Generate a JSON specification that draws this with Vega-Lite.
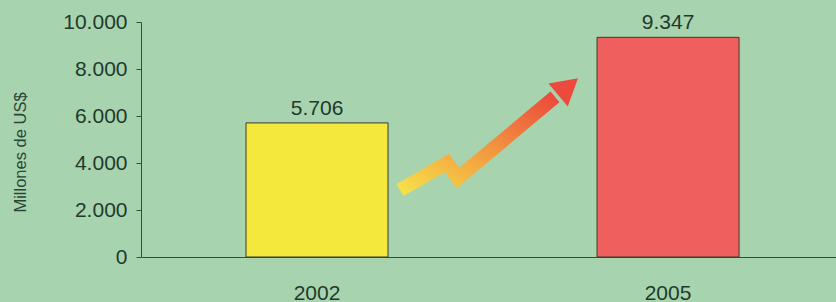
{
  "$schema": "https://vega.github.io/schema/vega-lite/v6.json",
  "width": 695,
  "height": 235,
  "autosize": {"type": "none"},
  "padding": {"left": 141, "top": 22, "right": 0, "bottom": 45},
  "background": "#a7d4ae",
  "config": {
    "view": {"stroke": null},
    "font": "Liberation Sans",
    "locale": {"number": {"decimal": ",", "thousands": ".", "grouping": [3], "currency": ["", "$"]}}
  },
  "datasets": {
    "bars": [
      {"year": "2002", "value": 5706},
      {"year": "2005", "value": 9347}
    ],
    "arrow": [
      {"pos": 0.3727, "level": 2851},
      {"pos": 0.4403, "level": 4000},
      {"pos": 0.4561, "level": 3362},
      {"pos": 0.5957, "level": 6809}
    ],
    "head": [
      {"pos": 0.6145, "level": 7250}
    ]
  },
  "resolve": {"scale": {"x": "independent"}, "axis": {"x": "independent", "y": "independent"}},
  "layer": [
    {
      "data": {"name": "bars"},
      "encoding": {
        "x": {
          "field": "year", "type": "nominal",
          "scale": {"paddingInner": 0.5954, "paddingOuter": 0.2877, "align": 0.52},
          "axis": {"title": null, "labelAngle": 0, "labelFontSize": 21, "labelColor": "#1f3a2c", "ticks": false, "labelPadding": 25, "domainColor": "#3a4a40", "domainWidth": 1.2}
        },
        "y": {
          "field": "value", "type": "quantitative",
          "scale": {"domain": [0, 10000]},
          "axis": {"values": [0, 2000, 4000, 6000, 8000, 10000], "format": ",d", "grid": false, "labelFontSize": 21, "labelColor": "#1f3a2c", "tickSize": 5, "labelPadding": 9, "tickColor": "#3a4a40", "domainColor": "#3a4a40", "title": "Millones de US$", "titleFontSize": 16.5, "titleFontWeight": "normal", "titleColor": "#2a4436", "titleX": -113, "titleY": 130, "titleAngle": -90}
        }
      },
      "layer": [
        {
          "mark": {"type": "bar", "stroke": "#3a3a2a", "strokeWidth": 1},
          "encoding": {
            "color": {"field": "year", "type": "nominal", "scale": {"domain": ["2002", "2005"], "range": ["#f4e83c", "#ee5f5d"]}, "legend": null}
          }
        },
        {
          "mark": {"type": "text", "baseline": "alphabetic", "dy": -8, "fontSize": 21, "color": "#1f3a2c"},
          "encoding": {"text": {"field": "value", "type": "quantitative", "format": ",d"}}
        }
      ]
    },
    {
      "data": {"name": "arrow"},
      "mark": {"type": "line", "strokeWidth": 14, "strokeJoin": "miter", "strokeCap": "butt",
        "stroke": {"gradient": "linear", "x1": 0, "y1": 1, "x2": 1, "y2": 0,
          "stops": [{"offset": 0, "color": "#f6e04a"}, {"offset": 0.45, "color": "#f3a040"}, {"offset": 1, "color": "#ec4a3c"}]}},
      "encoding": {
        "x": {"field": "pos", "type": "quantitative", "scale": {"domain": [0, 1]}, "axis": null},
        "y": {"field": "level", "type": "quantitative", "scale": {"domain": [0, 10000]}, "axis": null}
      }
    },
    {
      "data": {"name": "head"},
      "mark": {"type": "point", "shape": "triangle-up", "filled": true, "color": "#ec4a3c", "opacity": 1, "size": 900, "angle": 50},
      "encoding": {
        "x": {"field": "pos", "type": "quantitative", "scale": {"domain": [0, 1]}, "axis": null},
        "y": {"field": "level", "type": "quantitative", "scale": {"domain": [0, 10000]}, "axis": null}
      }
    }
  ]
}
